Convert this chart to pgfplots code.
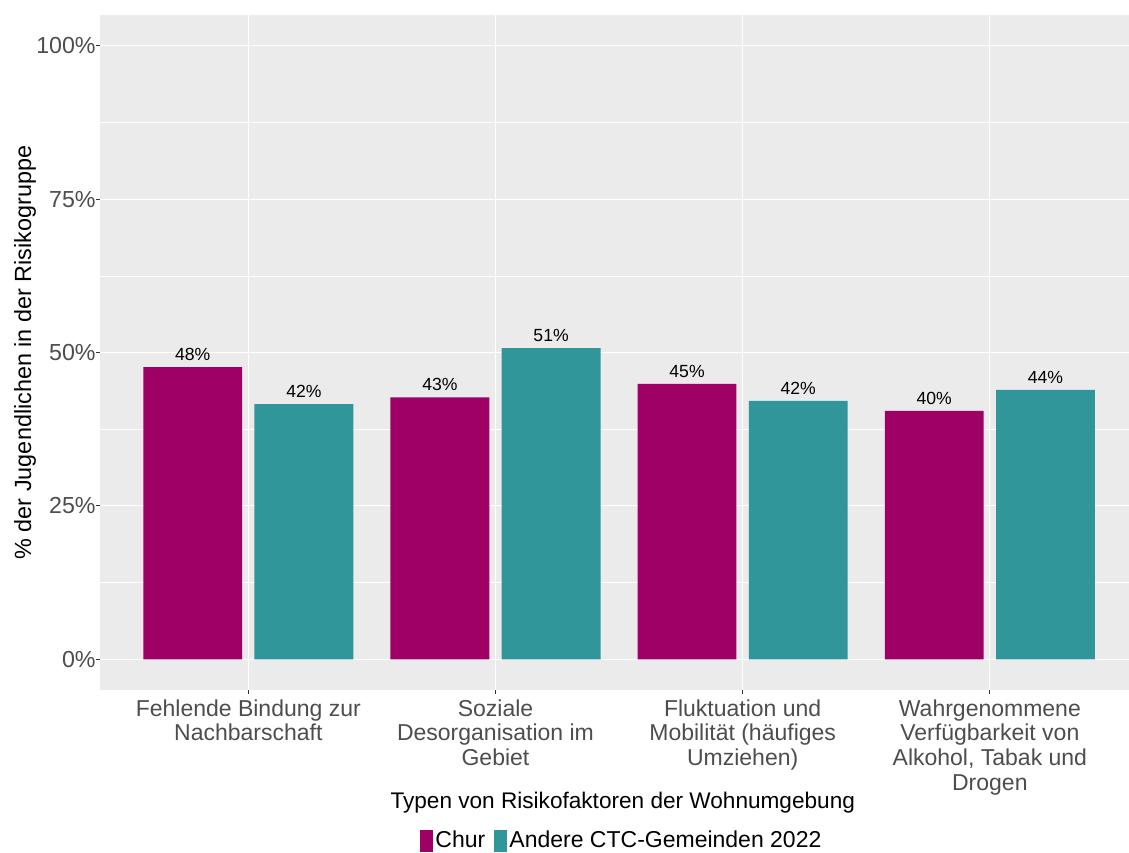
\documentclass[border=0pt]{standalone}
\usepackage{pgfplots}
\pgfplotsset{compat=1.18}
\usepackage{fontspec}
\setmainfont{Liberation Sans}
\definecolor{chur}{RGB}{158,0,102}
\definecolor{andere}{RGB}{49,150,154}
\definecolor{panel}{RGB}{235,235,235}
\definecolor{ticktext}{RGB}{77,77,77}
\definecolor{tickmark}{RGB}{51,51,51}
\pgfplotsset{sqlegend/.style={legend image code/.code={\fill[##1] (0pt,-5.4pt) rectangle (6.7pt,5.4pt);}}}
\begin{document}
\begin{tikzpicture}
\begin{axis}[name=ax,
  scale only axis, width=514.5pt, height=337.5pt,
  xmin=0.4, xmax=4.563, ymin=-5, ymax=105,
  ybar, bar width=0.4,
  axis background/.style={fill=panel},
  axis line style={draw=none},
  tick pos=left, tick align=outside, major tick length=2pt, minor tick length=0pt,
  tick style={tickmark, line width=0.5pt},
  xtick={1,2,3,4},
  xticklabels={{Fehlende Bindung zur\\Nachbarschaft},{Soziale\\Desorganisation im\\Gebiet},{Fluktuation und\\Mobilität (häufiges\\Umziehen)},{Wahrgenommene\\Verfügbarkeit von\\Alkohol, Tabak und\\Drogen}},
  x tick label style={align=center, anchor=north, text=ticktext, font=\fontsize{11.5}{12.4}\selectfont, inner sep=0pt, yshift=-2.5pt},
  ytick={0,25,50,75,100},
  yticklabels={0\%,25\%,50\%,75\%,100\%},
  y tick label style={text=ticktext, font=\fontsize{11.6}{14}\selectfont, inner sep=0pt, xshift=0pt},
  minor ytick={12.5,37.5,62.5,87.5},
  xmajorgrids, ymajorgrids, yminorgrids,
  major grid style={white, line width=0.45pt},
  minor grid style={white, line width=0.25pt},
  xlabel={Typen von Risikofaktoren der Wohnumgebung},
  every axis x label/.style={at={(axis description cs:0.508,-0.1748)}, anchor=base, font=\fontsize{11.3}{12.8}\selectfont},
  ylabel={\% der Jugendlichen in der Risikogruppe},
  every axis y label/.style={at={(axis description cs:-0.0729,0.5)}, rotate=90, anchor=center, font=\fontsize{11.7}{12.8}\selectfont},
  point meta=explicit symbolic,
  nodes near coords,
  every node near coord/.append style={font=\fontsize{8.8}{10}\selectfont, text=black, anchor=south, inner sep=0pt, yshift=3pt},
  legend columns=2,
  legend style={at={(0.507,-0.2237)}, anchor=center, draw=none, fill=none, font=\fontsize{11.5}{12.8}\selectfont,
    /tikz/every even column/.append style={column sep=3pt}, nodes={inner sep=1.2pt}},
  legend cell align=left,
]
\addplot[fill=chur, draw=none, bar shift=0pt, sqlegend] coordinates {
  (0.775,47.6) [48\%]
  (1.775,42.7) [43\%]
  (2.775,44.9) [45\%]
  (3.775,40.5) [40\%]
};
\addlegendentry{Chur}
\addplot[fill=andere, draw=none, bar shift=0pt, sqlegend] coordinates {
  (1.225,41.6) [42\%]
  (2.225,50.7) [51\%]
  (3.225,42.1) [42\%]
  (4.225,43.9) [44\%]
};
\addlegendentry{Andere CTC-Gemeinden 2022}
\end{axis}
\pgfresetboundingbox
\path ([xshift=-50pt,yshift=-81pt]ax.south west) rectangle ([yshift=7.5pt]ax.north east);
\end{tikzpicture}
\end{document}
